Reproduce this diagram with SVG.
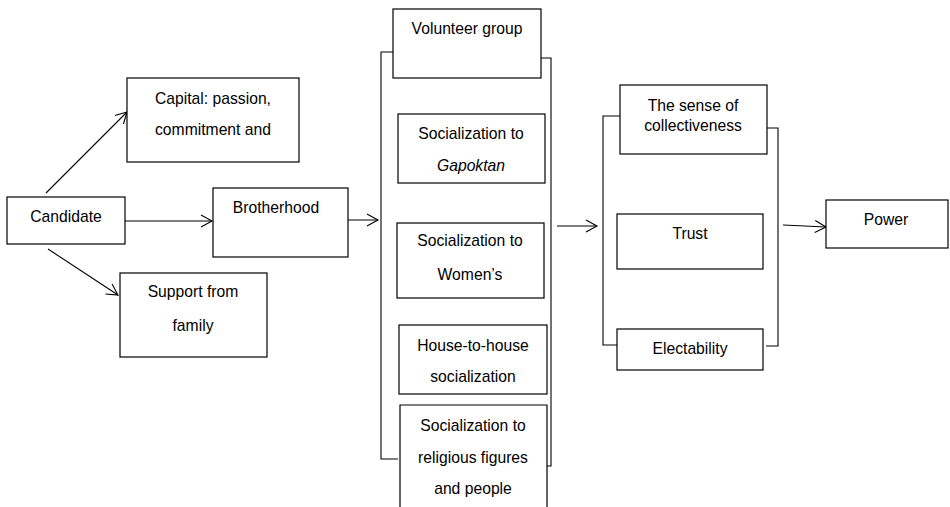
<svg xmlns="http://www.w3.org/2000/svg" width="950" height="507" viewBox="0 0 950 507">
<defs>
<style>
.box{fill:#fff;stroke:#000;stroke-width:1.2}
.t{font-family:"Liberation Sans",Arial,sans-serif;font-size:15.7px;fill:#000;text-anchor:middle;dominant-baseline:central}
.c{fill:none;stroke:#000;stroke-width:1.1}
.br{fill:none;stroke:#000;stroke-width:1.1}
</style>
<marker id="ah" markerWidth="14" markerHeight="14" refX="12" refY="7" orient="auto" markerUnits="userSpaceOnUse">
<polyline points="1,1 12,7 1,13" fill="none" stroke="#000" stroke-width="1.1"/>
</marker>
</defs>
<rect width="950" height="507" fill="#fff"/>
<g id="brackets">
<path class="br" d="M398,52 H381 V459 H398"/>
<path class="br" d="M541,58 H551 V466 H540"/>
<path class="br" d="M620,116 H603 V345 H620"/>
<path class="br" d="M766,128 H778 V346 H766"/>
</g>
<g id="connectors">
<line class="c" x1="46" y1="193" x2="127" y2="112" marker-end="url(#ah)"/>
<line class="c" x1="125" y1="221" x2="212" y2="221" marker-end="url(#ah)"/>
<line class="c" x1="48" y1="249" x2="118" y2="295" marker-end="url(#ah)"/>
<line class="c" x1="345" y1="220" x2="378" y2="220" marker-end="url(#ah)"/>
<line class="c" x1="557" y1="226" x2="597" y2="226" marker-end="url(#ah)"/>
<line class="c" x1="783" y1="225" x2="826" y2="227" marker-end="url(#ah)"/>
</g>
<g id="candidate"><rect class="box" x="7" y="197" width="118" height="47"/><text class="t" x="66" y="216">Candidate</text></g>
<g id="capital"><rect class="box" x="127" y="78" width="172" height="84"/><text class="t" x="213" y="98">Capital: passion,</text><text class="t" x="213" y="129">commitment and</text></g>
<g id="brotherhood"><rect class="box" x="213" y="188" width="135" height="69"/><text class="t" x="276" y="207">Brotherhood</text></g>
<g id="support"><rect class="box" x="120" y="273" width="147" height="84"/><text class="t" x="193" y="291">Support from</text><text class="t" x="193" y="325">family</text></g>
<g id="volunteer"><rect class="box" x="393" y="9" width="148" height="69"/><text class="t" x="467" y="28">Volunteer group</text></g>
<g id="gapoktan"><rect class="box" x="398" y="114" width="147" height="69"/><text class="t" x="471" y="133">Socialization to</text><text class="t" x="471" y="165" font-style="italic">Gapoktan</text></g>
<g id="women"><rect class="box" x="397" y="223" width="147" height="75"/><text class="t" x="470" y="240">Socialization to</text><text class="t" x="470" y="274">Women’s</text></g>
<g id="house"><rect class="box" x="399" y="325" width="148" height="69"/><text class="t" x="473" y="345">House-to-house</text><text class="t" x="473" y="376">socialization</text></g>
<g id="religious"><path class="box" d="M400,512 V405 H547 V512"/><text class="t" x="473" y="425">Socialization to</text><text class="t" x="473" y="457">religious figures</text><text class="t" x="473" y="488">and people</text></g>
<g id="sense"><rect class="box" x="620" y="85" width="147" height="69"/><text class="t" x="693" y="105">The sense of</text><text class="t" x="693" y="125">collectiveness</text></g>
<g id="trust"><rect class="box" x="617" y="214" width="146" height="55"/><text class="t" x="690" y="233">Trust</text></g>
<g id="electability"><rect class="box" x="617" y="329" width="146" height="41"/><text class="t" x="690" y="348">Electability</text></g>
<g id="power"><rect class="box" x="826" y="200" width="122" height="48"/><text class="t" x="886" y="219">Power</text></g>
</svg>
